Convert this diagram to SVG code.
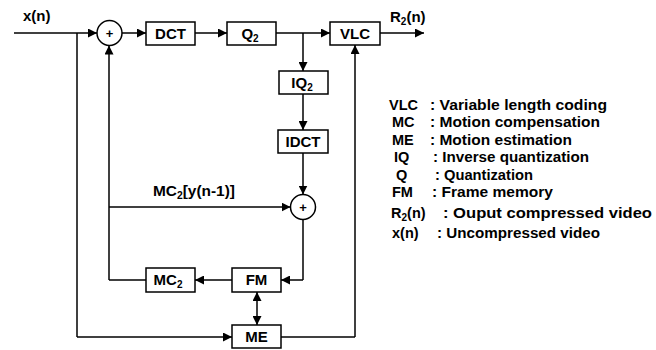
<svg xmlns="http://www.w3.org/2000/svg" width="656" height="350" viewBox="0 0 656 350">
<defs>
<marker id="ah" viewBox="0 0 10 10" refX="10" refY="5" markerWidth="9" markerHeight="9" markerUnits="userSpaceOnUse" orient="auto-start-reverse">
<path d="M0,0 L10,5 L0,10 z" fill="#000"/>
</marker>
<style>
.box{fill:#fff;stroke:#000;stroke-width:1.5}
.lbl{font-family:"Liberation Sans",Arial,sans-serif;font-weight:bold;font-size:15px;fill:#000;text-anchor:middle}
.sum{font-family:"Liberation Sans",Arial,sans-serif;font-weight:bold;font-size:13px;fill:#000;text-anchor:middle}
.txt{font-family:"Liberation Sans",Arial,sans-serif;font-weight:bold;font-size:15px;fill:#000}
.leg{font-family:"Liberation Sans",Arial,sans-serif;font-weight:bold;font-size:14.5px;fill:#000}
.ln{fill:none;stroke:#000;stroke-width:1.5}
.arr{fill:none;stroke:#000;stroke-width:1.5;marker-end:url(#ah)}
</style>
</defs>
<rect width="656" height="350" fill="#fff"/>

<g id="connectors">
<path class="arr" d="M14,33 H97"/>
<path class="ln" d="M77,33 V337"/>
<path class="arr" d="M77,337 H232"/>
<path class="arr" d="M122,33 H146"/>
<path class="arr" d="M195,33 H227"/>
<path class="arr" d="M276,33 H330"/>
<path class="arr" d="M303,33 V71"/>
<path class="arr" d="M380,33 H424"/>
<path class="arr" d="M303,94 V130"/>
<path class="arr" d="M303,153 V194.5"/>
<path class="ln" d="M146,280 H109"/>
<path class="arr" d="M109,280 V45.5"/>
<path class="arr" d="M109,207 H290.5"/>
<path class="ln" d="M303,219.5 V280"/>
<path class="arr" d="M303,280 H281"/>
<path class="arr" d="M232,280 H195"/>
<path class="arr" d="M257,300 V292"/>
<path class="arr" d="M257,300 V325"/>
<path class="ln" d="M281,337 H355"/>
<path class="arr" d="M355,337 V45"/>
<text class="txt" x="23" y="21">x(n)</text>
<text class="txt" x="390" y="22">R<tspan font-size="10" dy="3">2</tspan><tspan dy="-3">(n)</tspan></text>
<text class="txt" x="153" y="196" textLength="82" lengthAdjust="spacingAndGlyphs">MC<tspan font-size="10" dy="3">2</tspan><tspan dy="-3">[y(n-1)]</tspan></text>
</g>

<g id="sum1">
<circle class="box" cx="109.5" cy="33" r="12.5"/>
<text class="sum" x="109.5" y="37.5">+</text>
</g>
<g id="dct">
<rect class="box" x="146" y="22" width="49" height="23"/>
<text class="lbl" x="170.5" y="39">DCT</text>
</g>
<g id="q2">
<rect class="box" x="227" y="22" width="49" height="23"/>
<text class="lbl" x="250" y="39">Q<tspan font-size="10" dy="3">2</tspan></text>
</g>
<g id="vlc">
<rect class="box" x="330" y="22" width="50" height="23"/>
<text class="lbl" x="355" y="39">VLC</text>
</g>
<g id="iq2">
<rect class="box" x="279" y="71" width="49" height="23"/>
<text class="lbl" x="302" y="88">IQ<tspan font-size="10" dy="3">2</tspan></text>
</g>
<g id="idct">
<rect class="box" x="278" y="130" width="50" height="23"/>
<text class="lbl" x="303" y="147">IDCT</text>
</g>
<g id="sum2">
<circle class="box" cx="303" cy="207" r="12.5"/>
<text class="sum" x="303" y="211.5">+</text>
</g>
<g id="mc2">
<rect class="box" x="146" y="268" width="49" height="24"/>
<text class="lbl" x="168" y="285">MC<tspan font-size="10" dy="3">2</tspan></text>
</g>
<g id="fm">
<rect class="box" x="232" y="268" width="49" height="24"/>
<text class="lbl" x="256.5" y="285">FM</text>
</g>
<g id="me">
<rect class="box" x="232" y="325" width="49" height="23"/>
<text class="lbl" x="256.5" y="342">ME</text>
</g>

<g id="legend">
<text class="leg" x="389" y="110">VLC</text><text class="leg" x="430" y="110" textLength="177" lengthAdjust="spacingAndGlyphs">: Variable length coding</text>
<text class="leg" x="392" y="127">MC</text><text class="leg" x="430" y="127" textLength="170" lengthAdjust="spacingAndGlyphs">: Motion compensation</text>
<text class="leg" x="392" y="145">ME</text><text class="leg" x="430" y="145" textLength="142" lengthAdjust="spacingAndGlyphs">: Motion estimation</text>
<text class="leg" x="394" y="162">IQ</text><text class="leg" x="433" y="162" textLength="156" lengthAdjust="spacingAndGlyphs">: Inverse quantization</text>
<text class="leg" x="396" y="180">Q</text><text class="leg" x="435" y="180" textLength="98" lengthAdjust="spacingAndGlyphs">: Quantization</text>
<text class="leg" x="392" y="197">FM</text><text class="leg" x="432" y="197" textLength="121" lengthAdjust="spacingAndGlyphs">: Frame memory</text>
<text class="leg" x="391" y="218">R<tspan font-size="10" dy="3">2</tspan><tspan dy="-3">(n)</tspan></text><text class="leg" x="443" y="218" textLength="209" lengthAdjust="spacingAndGlyphs">: Ouput compressed video</text>
<text class="leg" x="392" y="238">x(n)</text><text class="leg" x="437" y="238" textLength="163" lengthAdjust="spacingAndGlyphs">: Uncompressed video</text>
</g>
</svg>
